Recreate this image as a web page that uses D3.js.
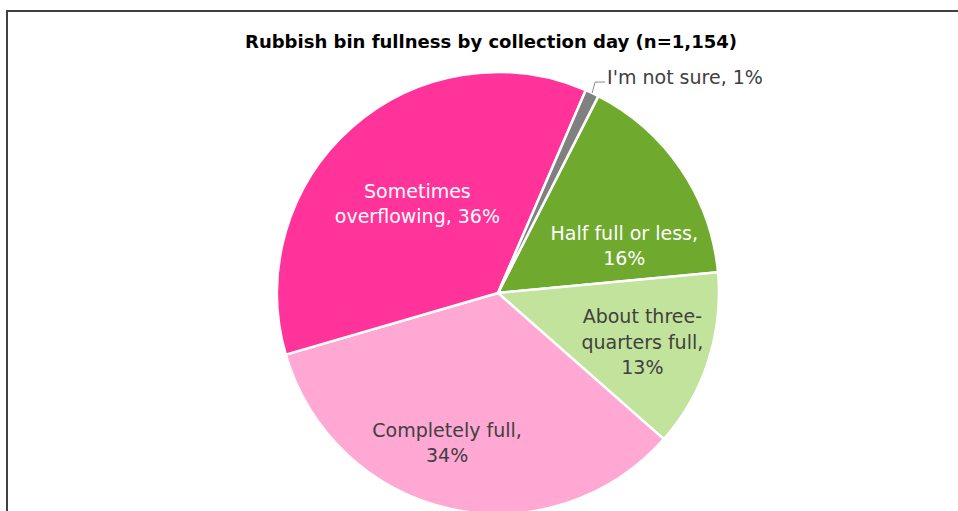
<!DOCTYPE html>
<html>
<head>
<meta charset="utf-8">
<script src="https://cdn.jsdelivr.net/npm/d3@7/dist/d3.min.js"></script>
<style>
  html, body { margin: 0; padding: 0; background: #fff; }
  svg { display: block; }
  text { font-family: "DejaVu Sans", "Noto Sans", sans-serif; }
</style>
</head>
<body>
<svg id="chart" width="958" height="511"></svg>
<script>
// Survey answers, in the order the slices run clockwise
const categories = [
  "Half full or less",
  "About three-quarters full",
  "Completely full",
  "Sometimes overflowing",
  "I'm not sure"
];
const shares = [16, 13, 34, 36, 1];
const sliceColors = ["#6FAA2F", "#C2E39B", "#FFA8D4", "#FF3399", "#808080"];
const labelLines = [
  ["Half full or less,", "16%"],
  ["About three-", "quarters full,", "13%"],
  ["Completely full,", "34%"],
  ["Sometimes", "overflowing, 36%"],
  ["I'm not sure, 1%"]
];
const labelInk = ["#ffffff", "#404040", "#404040", "#ffffff", "#404040"];
const title = "Rubbish bin fullness by collection day (n=1,154)";

const W = 958, H = 511;
const cx = 498, cy = 293, R = 221;
const startDeg = 27;

const svg = d3.select("#chart");

// chart frame
svg.append("rect")
  .attr("x", 7).attr("y", 11)
  .attr("width", 980).attr("height", 540)
  .attr("fill", "none")
  .attr("stroke", "#404040")
  .attr("stroke-width", 2);

svg.append("text")
  .attr("x", 491).attr("y", 48)
  .attr("text-anchor", "middle")
  .attr("font-size", 17.5)
  .attr("font-weight", "bold")
  .attr("fill", "#000")
  .attr("textLength", 492)
  .attr("lengthAdjust", "spacingAndGlyphs")
  .text(title);

const rad = d => d * Math.PI / 180;
const pie = d3.pie().sort(null).value(d => d)
  .startAngle(rad(startDeg)).endAngle(rad(startDeg + 360));
const arcs = pie(shares);
const arc = d3.arc().innerRadius(0).outerRadius(R);

const g = svg.append("g").attr("transform", `translate(${cx},${cy})`);

g.selectAll("path.slice")
  .data(arcs)
  .join("path")
  .attr("class", "slice")
  .attr("d", arc)
  .attr("fill", (d, i) => sliceColors[i])
  .attr("stroke", "#fff")
  .attr("stroke-width", 2.5)
  .attr("stroke-linejoin", "round");

// best-fit placement of the inside labels: nudge along the slice (deg) and radius fraction
const placement = [
  { da: 13.7, rf: 0.61 },
  { da: 0.8, rf: 0.69 },
  { da: 6.2, rf: 0.715 },
  { da: -0.6, rf: 0.545 }
];
const lineGap = 25.5;
const fs = 19;

arcs.forEach((a, i) => {
  if (i >= placement.length) return;
  const mid = (a.startAngle + a.endAngle) / 2 + rad(placement[i].da);
  const r = R * placement[i].rf;
  const x = Math.sin(mid) * r, y = -Math.cos(mid) * r;
  const lines = labelLines[i];
  const t = g.append("text")
    .attr("text-anchor", "middle")
    .attr("font-size", fs)
    .attr("fill", labelInk[i]);
  lines.forEach((ln, k) => {
    t.append("tspan")
      .attr("x", x)
      .attr("y", y + (k - (lines.length - 1) / 2) * lineGap)
      .attr("dy", "0.36em")
      .text(ln);
  });
});

// outside label with leader line for the smallest slice
{
  const i = 4, a = arcs[i];
  const mid = (a.startAngle + a.endAngle) / 2;
  const p0 = [Math.sin(mid) * R, -Math.cos(mid) * R];
  const p1 = [p0[0] + 3, p0[1] - 11];
  const p2 = [p1[0] + 10, p1[1]];
  g.append("polyline")
    .attr("points", [p0, p1, p2].map(p => p.join(",")).join(" "))
    .attr("fill", "none")
    .attr("stroke", "#8c8c8c")
    .attr("stroke-width", 1);
  g.append("text")
    .attr("x", p2[0] + 2)
    .attr("y", p2[1] - 5)
    .attr("dy", "0.36em")
    .attr("font-size", fs)
    .attr("fill", labelInk[i])
    .text(labelLines[i][0]);
}
</script>
</body>
</html>
